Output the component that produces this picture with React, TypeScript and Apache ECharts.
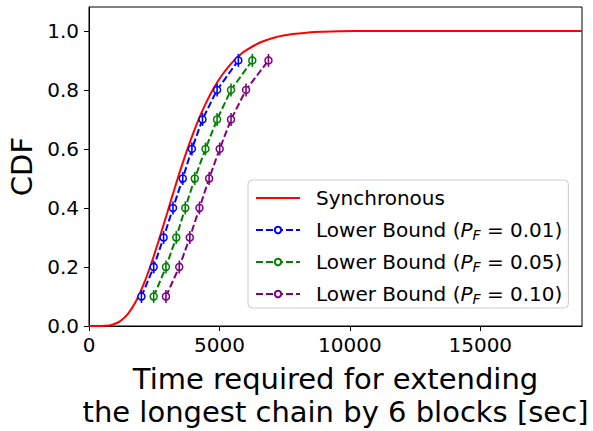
import React, { useEffect, useRef } from "react";
import * as echarts from "echarts";

const syncX = [0, 300, 600, 900, 1200, 1500, 1800, 2100, 2400, 2700, 3000, 3300, 3600, 3900, 4200, 4500, 4800, 5100, 5400, 5700, 6000, 6600, 7200, 7800, 8400, 9000, 9600, 10800, 12000, 18900];
const syncY = [0, 0.0, 0.0006, 0.0045, 0.0166, 0.042, 0.0839, 0.1424, 0.2149, 0.2971, 0.384, 0.4711, 0.5543, 0.631, 0.6993, 0.7586, 0.8088, 0.8504, 0.8843, 0.9115, 0.9329, 0.9625, 0.9797, 0.9893, 0.9945, 0.9972, 0.9986, 0.9997, 1.0, 1.0];

const cdfLevels = [0.1, 0.2, 0.3, 0.4, 0.5, 0.6, 0.7, 0.8, 0.9];
const lb01X = [2010, 2480, 2860, 3220, 3595, 3945, 4350, 4910, 5725];
const lb05X = [2480, 2950, 3345, 3690, 4055, 4465, 4910, 5445, 6260];
const lb10X = [2950, 3460, 3865, 4235, 4605, 5010, 5445, 6020, 6880];
const errHalf = 0.022;

const xTicks = [0, 5000, 10000, 15000];
const yTicks = [0, 0.2, 0.4, 0.6, 0.8, 1.0];

const seriesNames = [
  "Synchronous",
  "Lower Bound (P_F = 0.01)",
  "Lower Bound (P_F = 0.05)",
  "Lower Bound (P_F = 0.10)",
];
const legendRich: Record<string, string> = {
  "Synchronous": "{a|Synchronous}{h|F}",
  "Lower Bound (P_F = 0.01)": "{a|Lower Bound (}{i|P}{s|F}{a| = 0.01)}",
  "Lower Bound (P_F = 0.05)": "{a|Lower Bound (}{i|P}{s|F}{a| = 0.05)}",
  "Lower Bound (P_F = 0.10)": "{a|Lower Bound (}{i|P}{s|F}{a| = 0.10)}",
};

const FONT = "DejaVu Sans";

function lbSeries(name: string, xs: number[], color: string) {
  return {
    name,
    type: "line",
    data: xs.map((x, i) => [x, cdfLevels[i]]),
    symbol: "circle",
    symbolSize: 7,
    z: 3,
    itemStyle: { color: "#ffffff", borderColor: color, borderWidth: 1.5 },
    lineStyle: { color, width: 2, type: [7, 3] },
  };
}

function errSeries(xs: number[], color: string) {
  return {
    name: "err-" + color,
    type: "custom",
    z: 4,
    data: xs.map((x, i) => [x, cdfLevels[i]]),
    renderItem: (params: any, api: any) => {
      const x = api.value(0);
      const y = api.value(1);
      const p1 = api.coord([x, y - errHalf]);
      const p2 = api.coord([x, y + errHalf]);
      return {
        type: "line",
        shape: { x1: p1[0], y1: p1[1], x2: p2[0], y2: p2[1] },
        style: { stroke: color, lineWidth: 1.6 },
      };
    },
  };
}

export default function App() {
  const ref = useRef<HTMLDivElement>(null);
  useEffect(() => {
    if (!ref.current) return;
    const chart = echarts.init(ref.current, null, { renderer: "svg" });
    chart.setOption({
      animation: false,
      backgroundColor: "#ffffff",
      textStyle: { fontFamily: FONT },
      grid: {
        left: 89,
        right: 11,
        top: 7,
        bottom: 105,
        show: true,
        borderColor: "#000",
        borderWidth: 1,
        containLabel: false,
        outerBoundsMode: "none",
      },
      xAxis: {
        type: "value",
        min: 0,
        max: 18900,
        splitLine: { show: false },
        axisLine: { show: true, lineStyle: { color: "#000", width: 1 } },
        axisTick: { show: true, length: 5, inside: false, lineStyle: { color: "#000" }, customValues: xTicks },
        axisLabel: {
          color: "#000",
          fontSize: 20,
          fontFamily: FONT,
          margin: 9,
          customValues: xTicks,
          formatter: (v: number) => String(v),
        },
        name: "Time required for extending\nthe longest chain by 6 blocks [sec]",
        nameLocation: "middle",
        nameGap: 36,
        nameTextStyle: { color: "#000", fontSize: 29, fontFamily: FONT, lineHeight: 33, align: "center" },
      },
      yAxis: {
        type: "value",
        min: 0,
        max: 1.081,
        splitLine: { show: false },
        axisLine: { show: true, lineStyle: { color: "#000", width: 1 } },
        axisTick: { show: true, length: 5, inside: false, lineStyle: { color: "#000" }, customValues: yTicks },
        axisLabel: {
          color: "#000",
          fontSize: 20,
          fontFamily: FONT,
          margin: 10,
          customValues: yTicks,
          formatter: (v: number) => v.toFixed(1),
        },
        name: "CDF",
        nameLocation: "middle",
        nameGap: 53,
        nameTextStyle: { color: "#000", fontSize: 29, fontFamily: FONT },
      },
      legend: {
        data: seriesNames,
        orient: "vertical",
        left: 248,
        top: 180,
        padding: [8, 6, 2, 7],
        itemWidth: 44,
        itemHeight: 8,
        itemGap: 10,
        backgroundColor: "rgba(255,255,255,0.8)",
        borderColor: "#cccccc",
        borderWidth: 1,
        borderRadius: 4,
        formatter: (name: string) => legendRich[name] || name,
        textStyle: {
          padding: [0, 0, 0, 11],
          rich: {
            a: { fontSize: 20, fontFamily: FONT, color: "#000", lineHeight: 24, verticalAlign: "middle" },
            i: { fontSize: 20, fontFamily: FONT, fontStyle: "italic", color: "#000", lineHeight: 24, verticalAlign: "middle" },
            s: { fontSize: 14, fontFamily: FONT, fontStyle: "italic", color: "#000", lineHeight: 14, verticalAlign: "bottom" },
            h: { fontSize: 14, fontFamily: FONT, color: "rgba(0,0,0,0)", lineHeight: 14, verticalAlign: "bottom" },
          },
        },
      },
      series: [
        {
          name: seriesNames[0],
          type: "line",
          data: syncX.map((x, i) => [x, syncY[i]]),
          smooth: 0.4,
          symbol: "none",
          z: 1,
          itemStyle: { color: "#ff0000", opacity: 0 },
          lineStyle: { color: "#ff0000", width: 2 },
        },
        errSeries(lb01X, "#0000ff"),
        lbSeries(seriesNames[1], lb01X, "#0000ff"),
        errSeries(lb05X, "#008000"),
        lbSeries(seriesNames[2], lb05X, "#008000"),
        errSeries(lb10X, "#800080"),
        lbSeries(seriesNames[3], lb10X, "#800080"),
      ],
    });
    return () => chart.dispose();
  }, []);
  return <div ref={ref} style={{ position: "fixed", left: 0, top: 0, width: 593, height: 431 }} />;
}
